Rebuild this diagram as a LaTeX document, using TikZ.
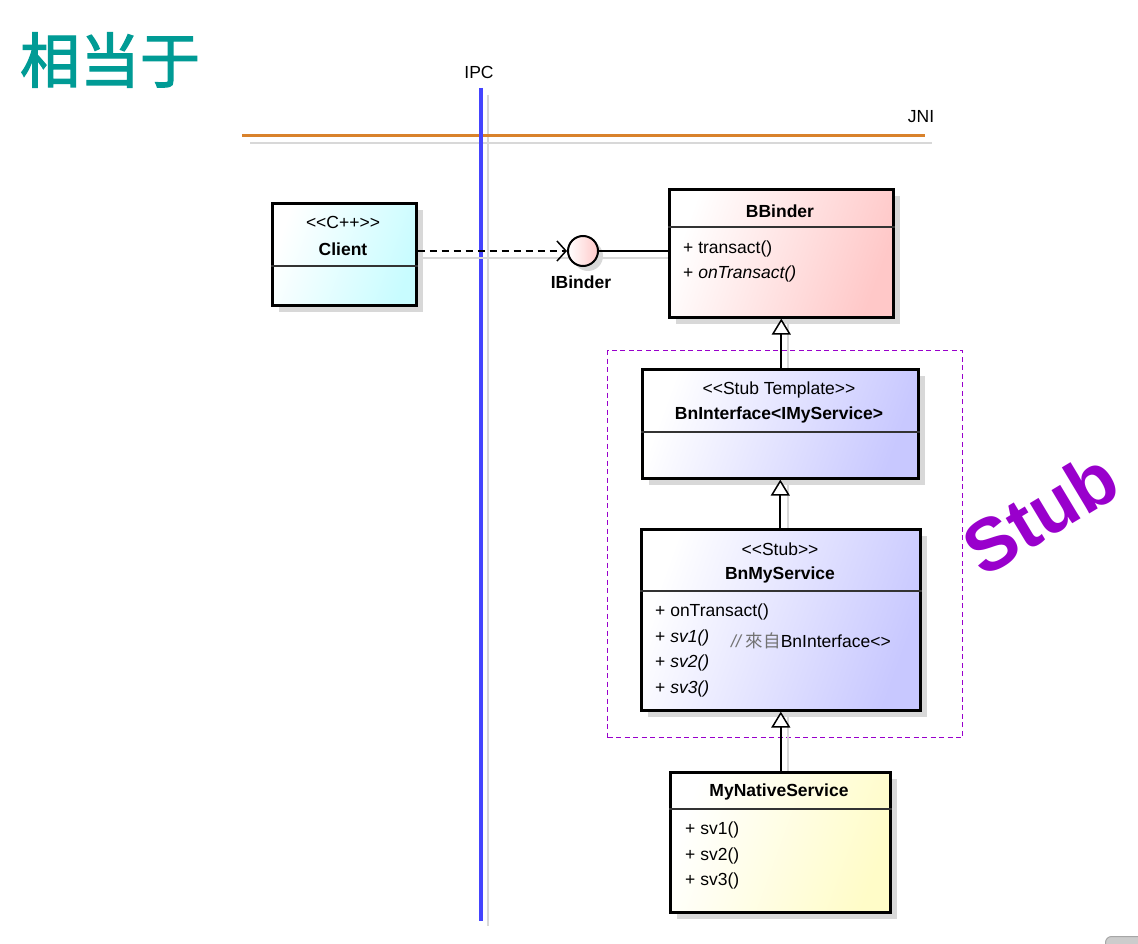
\documentclass[tikz,border=0pt]{standalone}
\usepackage{fontspec}
\setmainfont{Liberation Sans}
\newfontfamily\cjksc{Noto Sans CJK SC}[FakeBold=2]
\newfontfamily\cjktc{Noto Sans CJK TC}
\usetikzlibrary{arrows.meta,shadows}
\definecolor{titlec}{HTML}{009B95}
\definecolor{ipcc}{HTML}{4444FF}
\definecolor{jnic}{HTML}{D9822B}
\definecolor{stubc}{HTML}{9900CC}
\definecolor{shadc}{HTML}{D8D8D8}
\definecolor{cyanc}{HTML}{C8FCFF}
\definecolor{pinkc}{HTML}{FFC8C8}
\definecolor{bluec}{HTML}{C8C8FF}
\definecolor{yelc}{HTML}{FFFCC8}
\tikzset{
  umlbox/.style={draw=black, line width=2.6pt, anchor=north west, inner sep=0pt,
    general shadow={fill=shadc, shadow xshift=7pt, shadow yshift=-7pt}},
  grad/.style={left color=white, right color=#1, shading angle=70},
  sep/.style={line width=1.3pt, draw=black!80},
  txt/.style={inner sep=0pt, font=\fontsize{17.5}{20}\selectfont},
  btxt/.style={inner sep=0pt, font=\fontsize{17.5}{20}\selectfont\bfseries},
  gen/.style={line width=1.8pt, -{Triangle[open, fill=white, width=19pt, length=16pt, line width=1.5pt]}},
  shline/.style={draw=shadc, line width=1.5pt},
}
\begin{document}
\begin{tikzpicture}[x=1pt,y=-1pt]
\clip (0,0) rectangle (1138,944);
\fill[white] (0,0) rectangle (1138,944);

% title
\node[inner sep=0pt, text=titlec, font=\cjksc\fontsize{60}{66}\selectfont] (title) at (110,60) {相当于};

% IPC / JNI lines
\coordinate (ipcT) at (481,88);
\coordinate (ipcB) at (481,921);
\coordinate (ipcTs) at (488,95);
\coordinate (ipcBs) at (488,926);
\coordinate (jniL) at (242,136);
\coordinate (jniR) at (925,136);
\coordinate (jniLs) at (250,143);
\coordinate (jniRs) at (932,143);
\draw[shline] (jniLs) -- (jniRs);
\draw[shline] (ipcTs) -- (ipcBs);
\draw[jnic, line width=3pt] (jniL) -- (jniR);
\draw[ipcc, line width=3.2pt] (ipcT) -- (ipcB);
\node[txt] (ipclbl) at (479,72) {IPC};
\node[txt] (jnilbl) at (921,117) {JNI};

% stub frame
\node[draw=stubc, line width=1.2pt, dash pattern=on 5pt off 3.5pt, anchor=north west,
  minimum width=355pt, minimum height=387pt, inner sep=0pt] (stubframe) at (607,350) {};
\node[inner sep=0pt, text=stubc, rotate=31, font=\fontsize{74}{80}\selectfont\bfseries] (stublbl) at (1040,513) {Stub};

% connector shadows
\draw[shline] (422,258) -- (570,258);
\draw[shline] (598,258) -- (668,258);
\draw[shline] (788,323) -- (788,368);
\draw[shline] (788,484) -- (788,528);
\draw[shline] (788,716) -- (788,771);

% Client
\node[umlbox, grad=cyanc, minimum width=144pt, minimum height=102pt] (client) at (271,202) {};
\draw[sep] (client.west |- 0,266) -- (client.east |- 0,266);
\node[txt] (clientst) at (343,222) {<{}<C++>{}>};
\node[btxt] (clientnm) at (343,249) {Client};

% IBinder
\node[circle, draw=black, line width=2pt, minimum size=30pt, inner sep=0pt,
  left color=white, right color=pinkc,
  general shadow={fill=shadc, shadow xshift=5pt, shadow yshift=-5pt}] (ibinder) at (583,251) {};
\node[btxt] (ibinderlbl) at (581,282) {IBinder};

% BBinder
\node[umlbox, grad=pinkc, minimum width=224pt, minimum height=128pt] (bbinder) at (668,188) {};
\draw[sep] (bbinder.west |- 0,227) -- (bbinder.east |- 0,227);
\node[btxt] (bbindernm) at (780,211) {BBinder};
\node[txt, anchor=west] (bbm1) at (683,249) {+ transact()};
\node[txt, anchor=west] (bbm2) at (683,274) {+ \itshape onTransact()};

% BnInterface
\node[umlbox, grad=bluec, minimum width=276pt, minimum height=109pt] (bnif) at (641,368) {};
\draw[sep] (bnif.west |- 0,432) -- (bnif.east |- 0,432);
\node[txt] (bnifst) at (779,390) {<{}<Stub Template>{}>};
\node[btxt] (bnifnm) at (779,415) {BnInterface<IMyService>};

% BnMyService
\node[umlbox, grad=bluec, minimum width=279pt, minimum height=181pt] (bnms) at (640,528) {};
\draw[sep] (bnms.west |- 0,591) -- (bnms.east |- 0,591);
\node[txt] (bnmsst) at (780,549) {<{}<Stub>{}>};
\node[btxt] (bnmsnm) at (780,575) {BnMyService};
\node[txt, anchor=west] (bm1) at (655,612) {+ onTransact()};
\node[txt, anchor=west] (bm2) at (655,638) {+ \itshape sv1()};
\node[txt, anchor=west] (bmc) at (731,641) {{\color{black!55}\itshape //} {\cjktc\color{black!55}來自}BnInterface<{}>};
\node[txt, anchor=west] (bm3) at (655,663) {+ \itshape sv2()};
\node[txt, anchor=west] (bm4) at (655,689) {+ \itshape sv3()};

% MyNativeService
\node[umlbox, grad=yelc, minimum width=220pt, minimum height=140pt] (myns) at (669,771) {};
\draw[sep] (myns.west |- 0,809) -- (myns.east |- 0,809);
\node[btxt] (mynsnm) at (779,792) {MyNativeService};
\node[txt, anchor=west] (mm1) at (685,830) {+ sv1()};
\node[txt, anchor=west] (mm2) at (685,856) {+ sv2()};
\node[txt, anchor=west] (mm3) at (685,881) {+ sv3()};

% connectors
\draw[line width=1.5pt, dash pattern=on 7pt off 5pt,
  -{Straight Barb[length=9pt, width=20pt, line width=1.5pt]}] (client.east |- ibinder.west) -- (ibinder.west);
\draw[line width=1.5pt] (ibinder.east) -- (bbinder.west |- ibinder.east);
\draw[gen] (bnif.north -| bbinder.south) -- (bbinder.south);
\draw[gen] (bnms.north -| bnif.south) -- (bnif.south);
\draw[gen] (myns.north -| bnms.south) -- (bnms.south);

% corner fragment
\node[draw=black!35, fill=black!20, rounded corners=6pt, line width=1pt, anchor=north west,
  minimum width=60pt, minimum height=30pt] (corner) at (1105,936) {};
\end{tikzpicture}
\end{document}
